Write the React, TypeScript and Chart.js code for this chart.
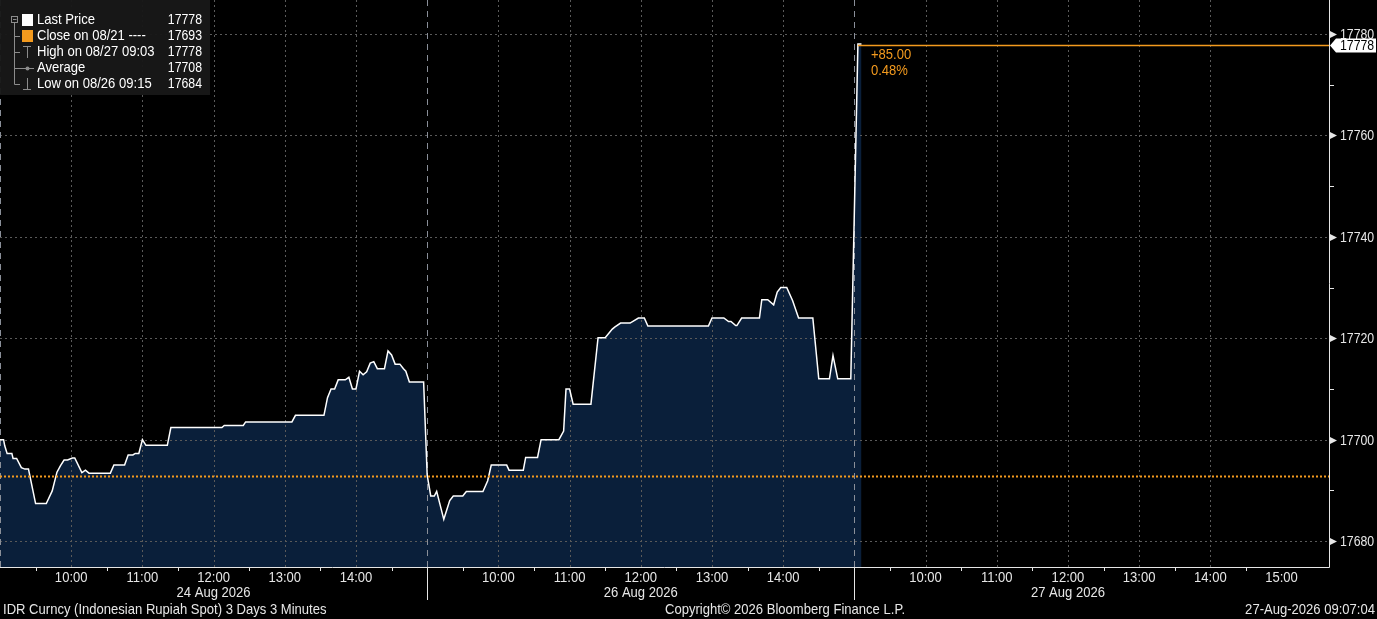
import React, { useEffect, useRef } from "react";
import { Chart, registerables } from "chart.js";

Chart.register(...registerables);

// minutes after 09:00 for each session, 3-minute bars
const aug24Minutes = [0, 3, 4, 6, 10, 11, 14, 18, 21, 24, 30, 39, 44, 48, 51, 54, 57, 61, 63, 69, 72, 75, 93, 96, 105, 108, 112, 114, 117, 120, 123, 141, 144, 187, 189, 205, 207, 246, 249, 273, 276, 279, 282, 285, 291, 294, 297, 300, 303, 306, 309, 312, 315, 318, 324, 327, 330, 333, 337, 340, 342, 345, 357];
const aug24Prices = [17700, 17700, 17698.8, 17697.3, 17697.3, 17696.3, 17696.3, 17694.5, 17694.2, 17694.2, 17687.4, 17687.4, 17689.9, 17693.6, 17694.9, 17696, 17696, 17696.4, 17696.4, 17693.5, 17694, 17693.4, 17693.4, 17695, 17695, 17697, 17697, 17697.3, 17697.3, 17700, 17698.9, 17698.9, 17702.4, 17702.4, 17702.8, 17702.8, 17703.5, 17703.5, 17704.8, 17704.8, 17708.3, 17710, 17710, 17711.8, 17711.8, 17712.3, 17710, 17710, 17713.5, 17712.8, 17713.4, 17715.1, 17715.4, 17714, 17714, 17717.5, 17716.7, 17714.9, 17714.9, 17714, 17713.5, 17711.4, 17711.4];

const aug26Minutes = [0, 3, 6, 8, 14, 19, 22, 30, 33, 47, 51, 54, 67, 69, 81, 83, 93, 96, 111, 115, 117, 120, 123, 138, 144, 150, 156, 158, 163, 171, 178, 183, 186, 237, 240, 250, 254, 256, 260, 261, 265, 280, 282, 287, 292, 295, 298, 303, 308, 313, 325, 330, 339, 342, 346, 357];
const aug26Prices = [17693, 17688.9, 17688.9, 17689.8, 17684.3, 17688, 17688.9, 17688.9, 17689.8, 17689.8, 17691.9, 17695, 17695, 17694, 17694, 17696.5, 17696.5, 17700, 17700, 17701.7, 17710, 17710, 17707, 17707, 17720.1, 17720.1, 17721.8, 17722.2, 17723, 17723, 17724, 17724, 17722.4, 17722.4, 17724, 17724, 17723.3, 17723.3, 17722.5, 17722.5, 17724, 17724, 17727.6, 17727.6, 17726.6, 17729.1, 17730, 17730, 17727.4, 17724, 17724, 17712, 17712, 17716.6, 17712, 17712];

const aug27Minutes = [3, 6];
const aug27Prices = [17778, 17778];

const sessionMinutes = 360;
const hourOffsets = [60, 120, 180, 240, 300, 360];
const hourLabels = ["10:00", "11:00", "12:00", "13:00", "14:00", "15:00"];
const dayLabels = ["24 Aug 2026", "26 Aug 2026", "27 Aug 2026"];
const priceTicks = [17680, 17700, 17720, 17740, 17760, 17780];
const minorPriceTicks = [17690, 17710, 17730, 17750, 17770];

const closePrice = 17693;
const lastPrice = 17778;
const legendRows = [
  { label: "Last Price", value: "17778" },
  { label: "Close on 08/21 ----", value: "17693" },
  { label: "High on 08/27 09:03", value: "17778" },
  { label: "Average", value: "17708" },
  { label: "Low on 08/26 09:15", value: "17684" },
];

const X_MAX = 1120;
const FONT = '15px "Liberation Sans", Arial, sans-serif';
const NARROW = 0.87;
const NARROW_NUM = 0.82;
const ORANGE = "#f39a1e";
const TEXT = "#e6e6e6";

const series = [
  ...aug24Minutes.map((m, i) => ({ x: m, y: aug24Prices[i] })),
  ...aug26Minutes.map((m, i) => ({ x: sessionMinutes + m, y: aug26Prices[i] })),
  ...aug27Minutes.map((m, i) => ({ x: 2 * sessionMinutes + m, y: aug27Prices[i] })),
];

// condensed text, like the terminal font
function text(ctx: CanvasRenderingContext2D, s: string, x: number, y: number, align: CanvasTextAlign, color: string, sx = NARROW) {
  ctx.save();
  ctx.translate(x, y);
  ctx.scale(sx, 1);
  ctx.font = FONT;
  ctx.textAlign = align;
  ctx.textBaseline = "middle";
  ctx.fillStyle = color;
  ctx.fillText(s, 0, 0);
  ctx.restore();
}

function hline(ctx: CanvasRenderingContext2D, x1: number, x2: number, y: number) {
  ctx.beginPath();
  ctx.moveTo(x1, y);
  ctx.lineTo(x2, y);
  ctx.stroke();
}

function vline(ctx: CanvasRenderingContext2D, x: number, y1: number, y2: number) {
  ctx.beginPath();
  ctx.moveTo(x, y1);
  ctx.lineTo(x, y2);
  ctx.stroke();
}

const bloombergPlugin = {
  id: "bloombergDecor",
  beforeDatasetsDraw(chart: any) {
    const { ctx, chartArea: a, scales } = chart;
    const x = scales.x;
    const y = scales.y;
    ctx.save();
    ctx.lineWidth = 1;
    ctx.strokeStyle = "#5a5a5a";
    ctx.setLineDash([2, 3]);
    priceTicks.forEach((v) => hline(ctx, a.left, a.right, Math.round(y.getPixelForValue(v)) + 0.5));
    for (let d = 0; d < 3; d++) {
      hourOffsets.forEach((h) => {
        const v = d * sessionMinutes + h;
        if (h === sessionMinutes || v > X_MAX) return;
        vline(ctx, Math.round(x.getPixelForValue(v)) + 0.5, a.top, a.bottom);
      });
    }
    ctx.strokeStyle = "#8a8f99";
    ctx.setLineDash([6, 5]);
    [0, sessionMinutes, 2 * sessionMinutes].forEach((v) =>
      vline(ctx, Math.round(x.getPixelForValue(v)) + 0.5, a.top, a.bottom)
    );
    ctx.restore();
  },
  afterDatasetsDraw(chart: any) {
    const { ctx, chartArea: a, scales, width, height } = chart;
    const x = scales.x;
    const y = scales.y;
    ctx.save();

    // previous close
    ctx.strokeStyle = ORANGE;
    ctx.lineWidth = 2;
    ctx.setLineDash([2, 2]);
    hline(ctx, a.left, a.right, Math.round(y.getPixelForValue(closePrice)) + 1.5);

    // last price
    const ly = Math.round(y.getPixelForValue(lastPrice)) + 1.5;
    const lx = x.getPixelForValue(2 * sessionMinutes + aug27Minutes[0]);
    ctx.setLineDash([]);
    ctx.fillStyle = ORANGE;
    ctx.fillRect(lx, ly - 0.75, a.right - lx, 1.5);
    text(ctx, "+" + (lastPrice - closePrice).toFixed(2), lx + 13, ly + 9, "left", ORANGE);
    text(ctx, ((lastPrice - closePrice) / closePrice * 100).toFixed(2) + "%", lx + 13, ly + 25, "left", ORANGE);

    // axis lines
    ctx.lineWidth = 1;
    ctx.strokeStyle = TEXT;
    vline(ctx, a.right + 0.5, a.top, a.bottom + 0.5);
    hline(ctx, a.left, a.right + 0.5, a.bottom + 0.5);

    // y axis
    ctx.fillStyle = TEXT;
    priceTicks.forEach((v) => {
      const py = Math.round(y.getPixelForValue(v)) + 0.5;
      ctx.beginPath();
      ctx.moveTo(a.right + 1, py - 3.5);
      ctx.lineTo(a.right + 8, py);
      ctx.lineTo(a.right + 1, py + 3.5);
      ctx.closePath();
      ctx.fill();
      text(ctx, String(v), a.right + 11, py, "left", TEXT, NARROW_NUM);
    });
    minorPriceTicks.forEach((v) => hline(ctx, a.right, a.right + 5, Math.round(y.getPixelForValue(v)) + 0.5));

    // x axis
    for (let d = 0; d < 3; d++) {
      for (let h = 30; h < sessionMinutes; h += 60) {
        const v = d * sessionMinutes + h;
        if (v > X_MAX) continue;
        vline(ctx, Math.round(x.getPixelForValue(v)) + 0.5, a.bottom, a.bottom + 4);
      }
      hourOffsets.forEach((h, i) => {
        const v = d * sessionMinutes + h;
        if ((h === sessionMinutes && d < 2) || v > X_MAX) return;
        text(ctx, hourLabels[i], x.getPixelForValue(v), a.bottom + 11, "center", TEXT);
      });
      text(ctx, dayLabels[d], x.getPixelForValue(d * sessionMinutes + 180), a.bottom + 26, "center", TEXT);
    }
    [sessionMinutes, 2 * sessionMinutes].forEach((v) =>
      vline(ctx, Math.round(x.getPixelForValue(v)) + 0.5, a.bottom, a.bottom + 33)
    );

    // last price tag
    const tagL = a.right + 7;
    ctx.fillStyle = "#ffffff";
    ctx.beginPath();
    ctx.moveTo(a.right + 1, ly);
    ctx.lineTo(tagL, ly - 7);
    ctx.lineTo(width - 1, ly - 7);
    ctx.lineTo(width - 1, ly + 7);
    ctx.lineTo(tagL, ly + 7);
    ctx.closePath();
    ctx.fill();
    text(ctx, String(lastPrice), a.right + 11, ly + 0.5, "left", "#000000", NARROW_NUM);

    // footer
    const fy = height - 9;
    text(ctx, "IDR Curncy (Indonesian Rupiah Spot) 3 Days 3 Minutes", 3, fy, "left", TEXT);
    text(ctx, "Copyright\u00a9 2026 Bloomberg Finance L.P.", 785, fy, "center", TEXT);
    text(ctx, "27-Aug-2026 09:07:04", width - 2, fy, "right", TEXT);

    // legend
    ctx.fillStyle = "rgba(24,24,24,0.96)";
    ctx.fillRect(0, 0, 210, 95);
    const rowY = [20, 36, 52, 68, 84];
    ctx.strokeStyle = "#8c8c8c";
    ctx.lineWidth = 1;
    vline(ctx, 14.5, 23, 84.5);
    rowY.slice(1).forEach((ry) => hline(ctx, 14.5, 20, ry + 0.5));
    ctx.strokeRect(11.5, 16.5, 6, 6);
    hline(ctx, 13, 16.5, 19.5);
    ctx.fillStyle = "#ffffff";
    ctx.fillRect(22, 14, 11, 12);
    ctx.fillStyle = ORANGE;
    ctx.fillRect(22, 30, 11, 12);
    hline(ctx, 23, 31, 46.5);
    vline(ctx, 27.5, 46.5, 58);
    hline(ctx, 20, 34, 68.5);
    vline(ctx, 27.5, 78, 89.5);
    hline(ctx, 23, 31, 89.5);
    ctx.fillStyle = "#8c8c8c";
    ctx.beginPath();
    ctx.arc(27.5, 68.5, 2, 0, Math.PI * 2);
    ctx.fill();
    legendRows.forEach((r, i) => {
      text(ctx, r.label, 37, rowY[i], "left", "#ffffff");
      text(ctx, r.value, 202, rowY[i], "right", "#ffffff", NARROW_NUM);
    });

    ctx.restore();
  },
};

export default function App() {
  const canvasRef = useRef<HTMLCanvasElement | null>(null);

  useEffect(() => {
    document.body.style.margin = "0";
    document.body.style.background = "#000";
    if (!canvasRef.current) return;
    const chart = new Chart(canvasRef.current, {
      type: "line",
      data: {
        datasets: [
          {
            data: series,
            borderColor: "#ffffff",
            borderWidth: 1.5,
            backgroundColor: "#0a1f3a",
            fill: "start",
            pointRadius: 0,
            tension: 0,
          },
        ],
      },
      options: {
        animation: false,
        responsive: true,
        maintainAspectRatio: false,
        layout: { padding: { left: 0, top: 0, right: 48, bottom: 52 } },
        scales: {
          x: { type: "linear", display: false, min: 0, max: X_MAX },
          y: { display: false, min: 17674.9, max: 17786.7 },
        },
        plugins: {
          legend: { display: false },
          tooltip: { enabled: false },
          filler: { drawTime: "beforeDatasetsDraw" },
        },
      },
      plugins: [bloombergPlugin],
    });
    return () => chart.destroy();
  }, []);

  return (
    <div style={{ width: 1377, height: 619, background: "#000" }}>
      <canvas ref={canvasRef} />
    </div>
  );
}
